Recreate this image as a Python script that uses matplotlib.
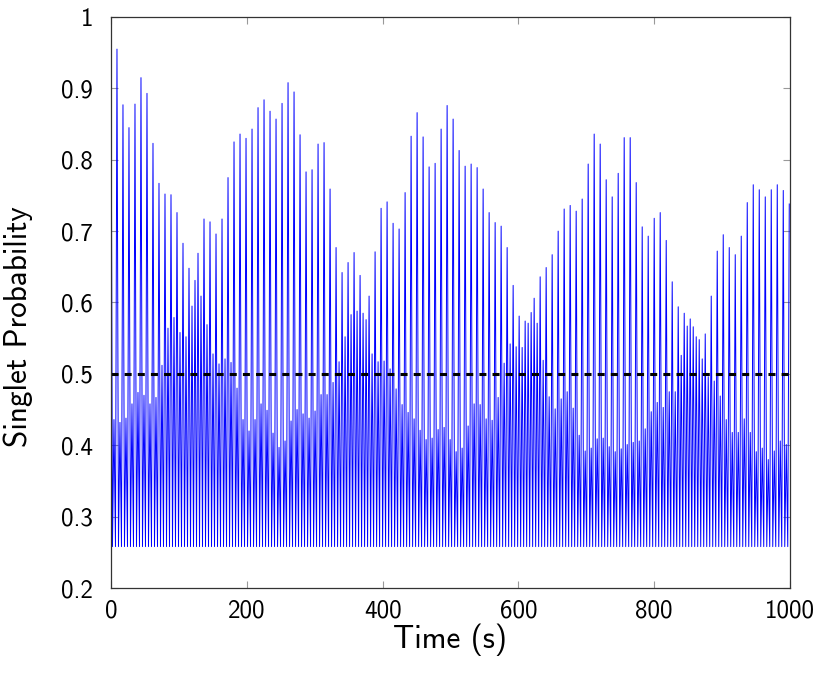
import numpy as np
import matplotlib
matplotlib.use("Agg")
import matplotlib.pyplot as plt

# peak heights, one per half period (~4.42 s apart)
peaks = [
    1.000, 0.436, 0.955, 0.432, 0.877, 0.438, 0.845, 0.458, 0.878, 0.474,
    0.915, 0.470, 0.893, 0.458, 0.823, 0.467, 0.767, 0.512, 0.752, 0.564,
    0.751, 0.579, 0.726, 0.558, 0.683, 0.552, 0.648, 0.595, 0.631, 0.669,
    0.609, 0.717, 0.569, 0.713, 0.528, 0.696, 0.514, 0.717, 0.521, 0.775,
    0.516, 0.825, 0.480, 0.836, 0.436, 0.830, 0.420, 0.843, 0.436, 0.873,
    0.458, 0.884, 0.449, 0.868, 0.417, 0.857, 0.397, 0.879, 0.406, 0.908,
    0.434, 0.895, 0.450, 0.835, 0.444, 0.783, 0.438, 0.786, 0.448, 0.822,
    0.471, 0.824, 0.471, 0.759, 0.488, 0.677, 0.517, 0.642, 0.552, 0.656,
    0.583, 0.670, 0.588, 0.638, 0.585, 0.576, 0.609, 0.528, 0.671, 0.517,
    0.732, 0.518, 0.741, 0.507, 0.711, 0.479, 0.703, 0.457, 0.754, 0.446,
    0.833, 0.437, 0.866, 0.421, 0.832, 0.408, 0.790, 0.410, 0.795, 0.422,
    0.843, 0.425, 0.876, 0.408, 0.857, 0.391, 0.813, 0.396, 0.791, 0.427,
    0.794, 0.458, 0.789, 0.457, 0.759, 0.437, 0.726, 0.435, 0.712, 0.467,
    0.707, 0.515, 0.677, 0.542, 0.624, 0.538, 0.581, 0.537, 0.574, 0.571,
    0.586, 0.606, 0.571, 0.636, 0.519, 0.649, 0.468, 0.667, 0.451, 0.700,
    0.465, 0.731, 0.475, 0.736, 0.452, 0.728, 0.414, 0.745, 0.392, 0.794,
    0.396, 0.836, 0.409, 0.822, 0.410, 0.772, 0.398, 0.748, 0.391, 0.781,
    0.395, 0.831, 0.401, 0.831, 0.404, 0.768, 0.406, 0.706, 0.423, 0.693,
    0.447, 0.718, 0.460, 0.726, 0.453, 0.687, 0.475, 0.629, 0.475, 0.594,
    0.526, 0.585, 0.567, 0.577, 0.566, 0.552, 0.548, 0.521, 0.556, 0.496,
    0.609, 0.490, 0.672, 0.469, 0.695, 0.436, 0.677, 0.418, 0.667, 0.418,
    0.693, 0.437, 0.740, 0.418, 0.765, 0.391, 0.758, 0.396, 0.748, 0.380,
    0.758, 0.392, 0.765, 0.406, 0.757, 0.401, 0.738,
]
trough = 0.258   # floor of every oscillation
half_period = 4.42  # seconds between successive peaks

xticks = [0, 200, 400, 600, 800, 1000]
yticks = [0.2, 0.3, 0.4, 0.5, 0.6, 0.7, 0.8, 0.9, 1.0]
ytick_labels = ["0.2", "0.3", "0.4", "0.5", "0.6", "0.7", "0.8", "0.9", "1"]
threshold = 0.5

# peak, trough, peak, trough ...
n = len(peaks)
y = np.full(2 * n - 1, trough)
y[0::2] = peaks
t = np.arange(2 * n - 1) * half_period / 2

plt.rcParams["font.family"] = "cmss10"
plt.rcParams["axes.formatter.use_mathtext"] = True

fig = plt.figure(figsize=(8.3, 6.85), dpi=100)
ax = fig.add_axes([0.1337, 0.1416, 0.8181, 0.8336])

ax.plot(t, y, color="#0000ff", lw=0.7)
ax.plot([0, 1000], [threshold, threshold], color="black", lw=2.2,
        linestyle=(0, (2.3, 2.0)))

ax.set_xlim(0, 1000)
ax.set_ylim(0.2, 1.0)
ax.set_xticks(xticks, labels=[str(v) for v in xticks])
ax.set_yticks(yticks, labels=ytick_labels)
ax.tick_params(direction="in", length=5, width=0.8, color="#999999",
               top=True, right=True, labelsize=18)
ax.tick_params(axis="y", pad=13)
ax.tick_params(axis="x", pad=8)
for s in ax.spines.values():
    s.set_linewidth(0.9)
    s.set_color("#333333")

ax.set_xlabel("Time (s)", fontsize=22.5, labelpad=1)
ax.set_ylabel("Singlet Probability", fontsize=22.5)
ax.yaxis.set_label_coords(-0.115, 0.457)

fig.savefig("out.png", dpi=100)
